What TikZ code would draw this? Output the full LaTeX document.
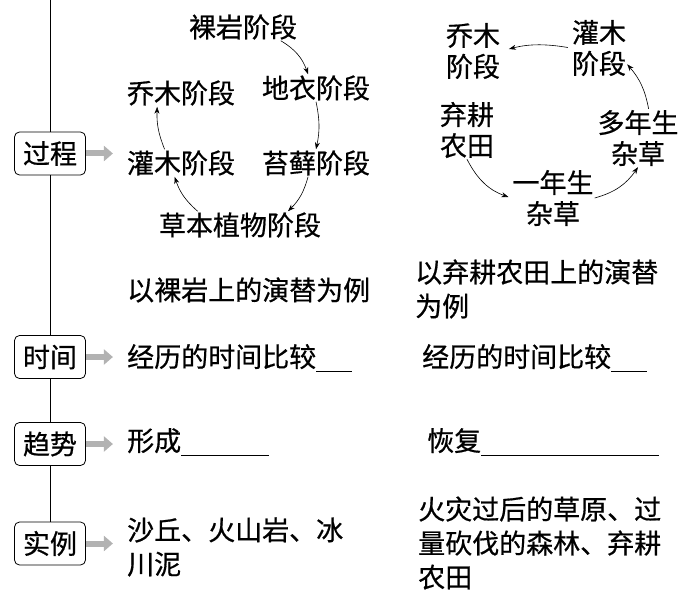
\documentclass[tikz,border=0pt]{standalone}
\usepackage{fontspec}
\setmainfont{Noto Sans CJK SC}[FakeBold=0.6]
\usetikzlibrary{arrows.meta}
\newcommand\blank[1]{\rule[-5pt]{#1}{0.9pt}}
\tikzset{
  stage/.style={font=\fontsize{27}{31}\selectfont, inner sep=1pt, align=center},
  note/.style={font=\fontsize{27}{34}\selectfont, inner sep=0pt, anchor=west, align=left},
  kbox/.style={draw, thick, rounded corners=5pt, fill=white, inner sep=2pt,
    minimum width=71pt, minimum height=43pt, font=\fontsize{27}{31}\selectfont},
  cyc/.style={-{Stealth[length=7pt,width=5pt]}, semithick},
  fat/.style={draw=gray!60, line width=6pt, -{Triangle[length=9pt,width=15pt]}},
}
\begin{document}
\begin{tikzpicture}[x=1pt,y=1pt]
      \useasboundingbox (0,0) rectangle (695,-596);
      % left column
      \coordinate (top) at (50,0);
      \node (guocheng) [kbox] at (50,-153.5) {过程};
      \node (shijian)  [kbox] at (50,-357)   {时间};
      \node (qushi)    [kbox] at (50,-444)   {趋势};
      \node (shili)    [kbox] at (50,-543.5) {实例};
      \draw (top) -- (guocheng.north);
      \draw (guocheng.south) -- (shijian.north);
      \draw (shijian.south) -- (qushi.north);
      \draw (qushi.south) -- (shili.north);
      \draw [fat] (guocheng.east) -- ++(27,0);
      \draw [fat] (shijian.east) -- ++(27,0);
      \draw [fat] (qushi.east) -- ++(27,0);
      \draw [fat] (shili.east) -- ++(27,0);
      % primary succession
      \node (luoyan)  [stage] at (243,-27)  {裸岩阶段};
      \node (diyi)    [stage] at (316,-88)  {地衣阶段};
      \node (qiaomu)  [stage] at (181,-93)  {乔木阶段};
      \node (guanmu)  [stage] at (181,-163) {灌木阶段};
      \node (taixian) [stage] at (316,-163) {苔藓阶段};
      \node (caoben)  [stage] at (240,-225) {草本植物阶段};
      \draw [cyc] (luoyan.-20) to[bend left=20] (diyi.120);
      \draw [cyc] (diyi.south) to[bend left=12] (taixian.north);
      \draw [cyc] (taixian.-120) to[bend left=15] (caoben.16);
      \draw [cyc] (caoben.162) to[bend left=15] (guanmu.-115);
      \draw [cyc] (guanmu.140) to[bend left=12] (qiaomu.-150);
      % secondary succession
      \node (qiaomu2) [stage] at (473,-51)  {乔木\\阶段};
      \node (guanmu2) [stage] at (599,-48)  {灌木\\阶段};
      \node (qigeng)  [stage] at (467,-130) {弃耕\\农田};
      \node (duonian) [stage] at (638,-138) {多年生\\杂草};
      \node (yinian)  [stage] at (553,-198) {一年生\\杂草};
      \draw [cyc, shorten <=3pt, shorten >=8pt] (guanmu2.west) to[bend right=12] (qiaomu2.east);
      \draw [cyc, shorten >=3pt] (qigeng.south) to[bend right=22] (yinian.west);
      \draw [cyc] (yinian.east) to[bend right=20] (duonian.south);
      \draw [cyc] (duonian.70) to[bend right=15] (guanmu2.-30);
      % texts
      \node (lnote)  [note] at (127,-290) {以裸岩上的演替为例};
      \node (rnote)  [note] at (415,-289) {以弃耕农田上的演替\\为例};
      \node (ltime)  [note] at (127,-358) {经历的时间比较\blank{36pt}};
      \node (rtime)  [note] at (422,-358) {经历的时间比较\blank{36pt}};
      \node (ltrend) [note] at (127,-442) {形成\blank{88pt}};
      \node (rtrend) [note] at (427,-442) {恢复\blank{178pt}};
      \node (lcase)  [note] at (127,-547) {沙丘、火山岩、冰\\川泥};
      \node (rcase)  [note] at (418,-543) {火灾过后的草原、过\\量砍伐的森林、弃耕\\农田};
\end{tikzpicture}
\end{document}
